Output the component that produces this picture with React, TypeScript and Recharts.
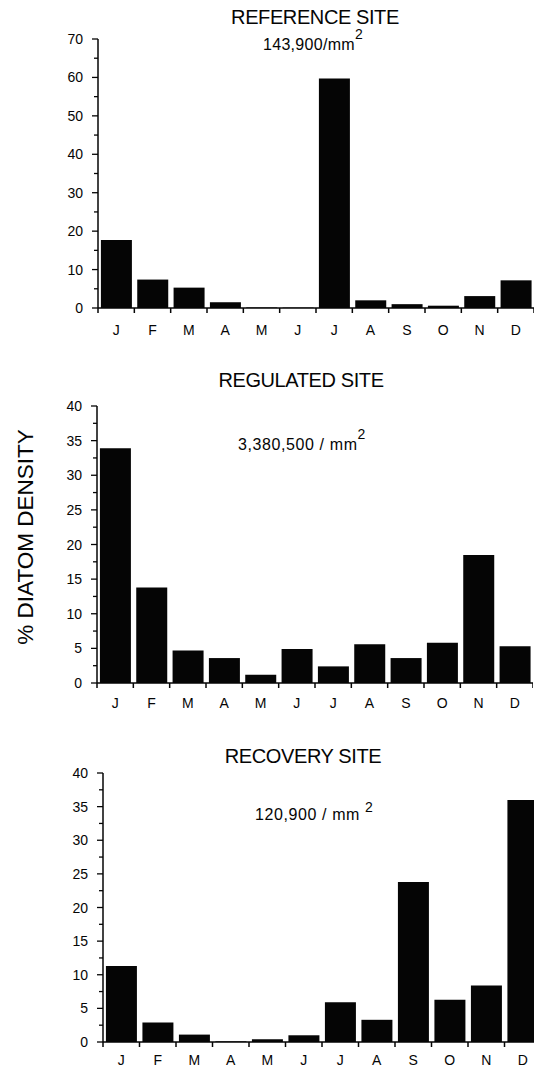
import React from "react";
import { BarChart, Bar, XAxis, YAxis } from "recharts";

const months = ["J", "F", "M", "A", "M", "J", "J", "A", "S", "O", "N", "D"];

// % of annual diatom density per month
const referenceValues = [17.7, 7.4, 5.3, 1.5, 0.1, 0.1, 59.7, 2.0, 1.0, 0.6, 3.1, 7.2];
const regulatedValues = [33.9, 13.8, 4.7, 3.6, 1.2, 4.9, 2.4, 5.6, 3.6, 5.8, 18.5, 5.3];
const recoveryValues = [11.3, 2.9, 1.1, 0.1, 0.4, 1.0, 5.9, 3.3, 23.8, 6.3, 8.4, 36.0];

const referenceTicks = [0, 5, 10, 15, 20, 25, 30, 35, 40, 45, 50, 55, 60, 65, 70];
const percentTicks = [0, 2.5, 5, 7.5, 10, 12.5, 15, 17.5, 20, 22.5, 25, 27.5, 30, 32.5, 35, 37.5, 40];

const FONT = "'Liberation Sans', Arial, Helvetica, sans-serif";
const INK = "#050505";

const toRows = (values: number[]) => months.map((m, i) => ({ month: m, key: i, value: values[i] }));

// month label plus the small tick marks at the category edges
const MonthTick = (props: any) => {
  const { x, y, payload, index, visibleTicksCount, labelGap } = props;
  const half = payload && payload.offset ? payload.offset : 0;
  return (
    <g>
      <line x1={x - half} x2={x - half} y1={y} y2={y + 5} stroke={INK} strokeWidth={1.5} />
      {index === visibleTicksCount - 1 && (
        <line x1={x + half} x2={x + half} y1={y} y2={y + 5} stroke={INK} strokeWidth={1.5} />
      )}
      <text
        x={x}
        y={y + labelGap}
        dy="0.71em"
        textAnchor="middle"
        fill={INK}
        fontSize={14}
        fontFamily={FONT}
      >
        {months[payload.value]}
      </text>
    </g>
  );
};

// y ticks: long marks with labels, short marks between them
const ValueTick = (props: any) => {
  const { x, y, payload, labelEvery, axisX } = props;
  const major = payload.value % labelEvery === 0;
  return (
    <g>
      <line x1={axisX - (major ? 6 : 4)} x2={axisX} y1={y} y2={y} stroke={INK} strokeWidth={1.3} />
      {major && (
        <text x={x} y={y} dy="0.36em" textAnchor="end" fill={INK} fontSize={14} fontFamily={FONT}>
          {payload.value}
        </text>
      )}
    </g>
  );
};

interface PanelProps {
  values: number[];
  ticks: number[];
  max: number;
  labelEvery: number;
  top: number;
  width: number;
  height: number;
  axisWidth: number;
  labelGap: number;
  xAxisHeight: number;
}

const Panel: React.FC<PanelProps> = ({
  values, ticks, max, labelEvery, top, width, height, axisWidth, labelGap, xAxisHeight,
}) => (
  <div style={{ position: "absolute", left: 0, top }}>
    <BarChart
      width={width}
      height={height}
      data={toRows(values)}
      margin={{ top: 12, right: 0, left: 0, bottom: 0 }}
      barCategoryGap="8%"
    >
      <XAxis
        dataKey="key"
        type="category"
        tickLine={false}
        tickSize={0}
        tickMargin={0}
        interval={0}
        height={xAxisHeight}
        axisLine={{ stroke: INK, strokeWidth: 1.5 }}
        tick={(p: any) => <MonthTick {...p} labelGap={labelGap} />}
      />
      <YAxis
        type="number"
        domain={[0, max]}
        ticks={ticks}
        interval={0}
        width={axisWidth}
        tickSize={0}
        tickMargin={15}
        axisLine={{ stroke: INK, strokeWidth: 1.5 }}
        tickLine={false}
        tick={(p: any) => <ValueTick {...p} labelEvery={labelEvery} axisX={axisWidth} />}
      />
      <Bar dataKey="value" fill={INK} isAnimationActive={false} />
    </BarChart>
  </div>
);

const Sup: React.FC<{ children: React.ReactNode; dy: number }> = ({ children, dy }) => (
  <tspan dy={-dy} fontSize={14}>
    {children}
  </tspan>
);

export default function App() {
  return (
    <div
      style={{
        position: "absolute",
        left: 0,
        top: 0,
        width: 534,
        height: 1069,
        overflow: "hidden",
        background: "#fff",
        fontFamily: FONT,
      }}
    >
      <Panel values={referenceValues} ticks={referenceTicks} max={70} labelEvery={10}
        top={27} width={534} height={317} axisWidth={98} labelGap={17} xAxisHeight={36} />
      <Panel values={regulatedValues} ticks={percentTicks} max={40} labelEvery={5}
        top={394} width={533} height={325} axisWidth={97} labelGap={15} xAxisHeight={36} />
      <Panel values={recoveryValues} ticks={percentTicks} max={40} labelEvery={5}
        top={761} width={541} height={308} axisWidth={103} labelGap={13} xAxisHeight={27} />

      <svg width={534} height={1069} style={{ position: "absolute", left: 0, top: 0, pointerEvents: "none" }}>
        <g fill={INK} fontFamily={FONT}>
          <text x={315} y={24} fontSize={20} textAnchor="middle" letterSpacing={-0.4}>REFERENCE SITE</text>
          <text x={263} y={50} fontSize={16} letterSpacing={0.3}>
            143,900/mm<Sup dy={11}>2</Sup>
          </text>

          <text x={301} y={387} fontSize={20} textAnchor="middle" letterSpacing={-0.4}>REGULATED SITE</text>
          <text x={238} y={450} fontSize={16} letterSpacing={0.6}>
            3,380,500 / mm<Sup dy={11}>2</Sup>
          </text>

          <text x={303} y={763} fontSize={20} textAnchor="middle" letterSpacing={-0.4}>RECOVERY SITE</text>
          <text x={255} y={820} fontSize={16} letterSpacing={0.6}>
            120,900 / mm <Sup dy={8}>2</Sup>
          </text>

          <text x={25} y={537} dy="0.36em" fontSize={22.5} textAnchor="middle" transform="rotate(-90 25 537)">
            % DIATOM DENSITY
          </text>
        </g>
      </svg>
    </div>
  );
}
